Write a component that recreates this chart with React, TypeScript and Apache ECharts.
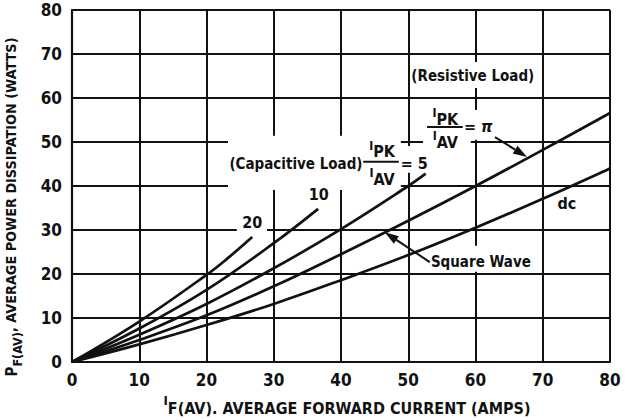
import React, { useEffect, useRef } from "react";
import * as echarts from "echarts";

// ---- data ----
const xTickValues = [0, 10, 20, 30, 40, 50, 60, 70, 80];
const yTickValues = [0, 10, 20, 30, 40, 50, 60, 70, 80];
const capacitive20: number[][] = [[0, 0], [10, 9.2], [20, 19.8], [23.4, 23.9], [26.8, 28.4]];
const capacitive10: number[][] = [[0, 0], [10, 7.6], [20, 16.4], [30, 27.0], [36.6, 34.8]];
const capacitive5: number[][] = [[0, 0], [10, 6.2], [20, 13.2], [30, 21.3], [40, 30.2], [50, 40], [52.6, 42.8]];
const resistivePi: number[][] = [[0, 0], [10, 5.0], [20, 10.6], [30, 17.2], [40, 24.5], [50, 32.1], [60, 40], [70, 48.2], [80, 56.6]];
const dcCurve: number[][] = [[0, 0], [10, 4.0], [20, 8.4], [30, 13.2], [40, 18.6], [50, 24.3], [60, 30.5], [70, 37.1], [80, 44]];

const FONT = "'Liberation Sans Narrow', 'DejaVu Sans Condensed', 'Noto Sans', sans-serif";
const INK = "#111";

// annotation anchors in data coordinates
const labelAnchors = {
  resistive: [59.6, 65.0],
  resNum: [55.5, 55.6],
  resDen: [55.5, 50.4],
  resBar: [52.8, 58.1, 53.4],
  resEq: [60.4, 53.6],
  capacitive: [33.3, 45.0],
  capNum: [46.1, 48.2],
  capDen: [46.1, 42.0],
  capBar: [43.3, 48.6, 45.5],
  capEq: [50.9, 45.2],
  ten: [36.7, 38.0],
  twenty: [26.8, 31.8],
  dc: [73.6, 36.1],
  square: [60.8, 22.7],
};
const blankBoxes: number[][] = [
  [23.2, 51.4, 48.9, 39.1],
  [48.6, 49.1, 53.1, 43.0],
  [50.6, 68.2, 68.6, 62.3],
  [52.2, 58.6, 59.3, 48.0],
  [58.6, 57.3, 63.0, 50.5],
  [24.5, 33.9, 29.0, 27.7],
  [53.5, 26.4, 68.4, 20.5],
];
const arrows: number[][] = [
  [62.9, 51.1, 67.66, 46.6],
  [53.2, 22.7, 46.5, 29.5],
];

const subRich = {
  a: { fontSize: 12, fontWeight: "bold", fontFamily: FONT, fill: INK, verticalAlign: "top", lineHeight: 20 },
  b: { fontSize: 16, fontWeight: "bold", fontFamily: FONT, fill: INK, verticalAlign: "bottom", lineHeight: 20 },
};

export default function App() {
  const ref = useRef<HTMLDivElement>(null);
  useEffect(() => {
    if (!ref.current) return;
    const chart = echarts.init(ref.current, null, { renderer: "svg" });
    const mkSeries = (name: string, data: number[][]) => ({
      name,
      type: "line",
      data,
      smooth: 0.4,
      symbol: "none",
      lineStyle: { color: INK, width: 2.7 },
      z: 3,
      silent: true,
    });
    const axisCommon = {
      type: "value",
      min: 0,
      max: 80,
      interval: 10,
      axisLine: { show: true, lineStyle: { color: INK, width: 2.2 } },
      axisTick: { show: false },
      splitLine: { show: true, showMinLine: true, showMaxLine: true, lineStyle: { color: INK, width: 2 } },
      axisLabel: { color: INK, fontSize: 17, fontWeight: "bold", fontFamily: FONT },
    };
    chart.setOption({
      animation: false,
      backgroundColor: "#fff",
      grid: { left: 72, right: 15, top: 10, bottom: 58 },
      xAxis: { ...axisCommon, axisLabel: { ...axisCommon.axisLabel, margin: 9, formatter: (v: number) => (xTickValues.includes(v) ? String(v) : "") } },
      yAxis: { ...axisCommon, axisLabel: { ...axisCommon.axisLabel, margin: 10, formatter: (v: number) => (yTickValues.includes(v) ? String(v) : "") } },
      series: [
        mkSeries("20", capacitive20),
        mkSeries("10", capacitive10),
        mkSeries("5", capacitive5),
        mkSeries("pi", resistivePi),
        mkSeries("dc", dcCurve),
      ],
    });

    const p = (x: number, y: number) => chart.convertToPixel({ gridIndex: 0 }, [x, y]) as number[];
    const g: any[] = [];
    // white gaps behind labels
    blankBoxes.forEach(([x1, y1, x2, y2]) => {
      const a = p(x1, y1);
      const b = p(x2, y2);
      g.push({ type: "rect", z: 1, shape: { x: a[0], y: a[1], width: b[0] - a[0], height: b[1] - a[1] }, style: { fill: "#fff" } });
    });
    const txt = (pos: number[], text: string, size = 16, extra: any = {}) => {
      const q = p(pos[0], pos[1]);
      g.push({
        type: "text",
        z: 5,
        x: q[0],
        y: q[1],
        style: { text, fill: INK, fontSize: size, fontWeight: "bold", fontFamily: FONT, align: "center", verticalAlign: "middle", ...extra },
      });
    };
    const bar = (b: number[]) => {
      const a = p(b[0], b[2]);
      const c = p(b[1], b[2]);
      g.push({ type: "line", z: 5, shape: { x1: a[0], y1: a[1], x2: c[0], y2: c[1] }, style: { stroke: INK, lineWidth: 2 } });
    };
    txt(labelAnchors.resistive, "(Resistive Load)", 15);
    txt(labelAnchors.resNum, "{a|I}{b|PK}", 16, { rich: subRich });
    txt(labelAnchors.resDen, "{a|I}{b|AV}", 16, { rich: subRich });
    bar(labelAnchors.resBar);
    txt(labelAnchors.resEq, "= π", 16, { fontStyle: "italic" });
    txt(labelAnchors.capacitive, "(Capacitive Load)", 15);
    txt(labelAnchors.capNum, "{a|I}{b|PK}", 16, { rich: subRich });
    txt(labelAnchors.capDen, "{a|I}{b|AV}", 16, { rich: subRich });
    bar(labelAnchors.capBar);
    txt(labelAnchors.capEq, "= 5", 16);
    txt(labelAnchors.ten, "10", 16);
    txt(labelAnchors.twenty, "20", 16);
    txt(labelAnchors.dc, "dc", 16);
    txt(labelAnchors.square, "Square Wave", 15);

    // arrows
    arrows.forEach(([x1, y1, x2, y2]) => {
      const a = p(x1, y1);
      const b = p(x2, y2);
      const ang = Math.atan2(b[1] - a[1], b[0] - a[0]);
      const len = 14;
      const w = 4.5;
      const base = [b[0] - len * Math.cos(ang), b[1] - len * Math.sin(ang)];
      const nx = -Math.sin(ang);
      const ny = Math.cos(ang);
      g.push({ type: "line", z: 5, shape: { x1: a[0], y1: a[1], x2: base[0], y2: base[1] }, style: { stroke: INK, lineWidth: 2 } });
      g.push({
        type: "polygon",
        z: 5,
        shape: { points: [[b[0], b[1]], [base[0] + nx * w, base[1] + ny * w], [base[0] - nx * w, base[1] - ny * w]] },
        style: { fill: INK },
      });
    });

    // axis titles
    g.push({
      type: "text",
      z: 5,
      x: 14,
      y: 207,
      rotation: Math.PI / 2,
      style: {
        text: "{m|P}{s|F(AV)}{n|, AVERAGE POWER DISSIPATION (WATTS)}",
        align: "center",
        verticalAlign: "middle",
        rich: {
          m: { fontSize: 15, fontWeight: "bold", fontFamily: FONT, fill: INK, verticalAlign: "top", lineHeight: 20 },
          s: { fontSize: 12.5, fontWeight: "bold", fontFamily: FONT, fill: INK, verticalAlign: "bottom", lineHeight: 20 },
          n: { fontSize: 14.3, fontWeight: "bold", fontFamily: FONT, fill: INK, verticalAlign: "top", lineHeight: 20 },
        },
      },
    });
    g.push({
      type: "text",
      z: 5,
      x: 347,
      y: 405,
      style: {
        text: "{m|I}{s|F(AV)}{n|. AVERAGE FORWARD CURRENT (AMPS)}",
        align: "center",
        verticalAlign: "middle",
        rich: {
          m: { fontSize: 13, fontWeight: "bold", fontFamily: FONT, fill: INK, verticalAlign: "top", lineHeight: 22 },
          s: { fontSize: 16, fontWeight: "bold", fontFamily: FONT, fill: INK, verticalAlign: "bottom", lineHeight: 22 },
          n: { fontSize: 16, fontWeight: "bold", fontFamily: FONT, fill: INK, verticalAlign: "bottom", lineHeight: 22 },
        },
      },
    });
    chart.setOption({ graphic: g });
    return () => chart.dispose();
  }, []);
  return <div ref={ref} style={{ position: "fixed", left: 0, top: 0, width: 625, height: 420, background: "#fff" }} />;
}
